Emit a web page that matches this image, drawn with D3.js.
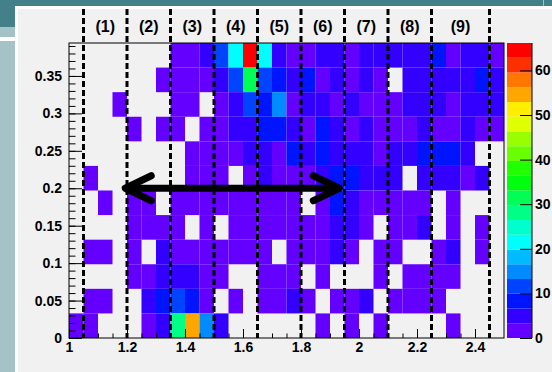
<!DOCTYPE html>
<html>
<head>
<meta charset="utf-8">
<script src="https://cdn.jsdelivr.net/npm/d3@7"></script>
<style>
body { margin: 0; background: #f1f1f1; }
svg { display: block; font-family: "Liberation Sans", Arial, sans-serif; font-weight: bold; }
</style>
</head>
<body>
<div id="chart"></div>
<script>
// histogram binning
var xMin = 1, xMax = 2.5, xBins = 30
var yMin = 0, yMax = 0.394, yBins = 12
// bin contents, rows listed from the top y bin down to the bottom one
var counts = [
  [0,0,0,0,0,0,0,2,2,5,11,21,63,21,5,2,2,5,5,2,5,5,5,5,6,8,2,5,5,2],
  [0,0,0,0,0,0,2,2,2,2,5,11,32,11,8,5,8,2,5,2,5,2,0,5,5,5,5,5,8,5],
  [0,0,0,2,0,0,0,2,2,0,2,5,11,8,15,2,5,5,2,5,2,2,2,5,5,5,2,5,5,5],
  [0,0,0,0,2,0,2,2,0,2,2,5,6,8,8,5,2,8,5,2,5,2,2,2,5,2,2,5,2,2],
  [0,0,0,0,0,0,0,0,2,2,2,2,5,5,2,8,5,8,5,5,5,2,5,5,8,8,8,5,0,0],
  [0,2,0,0,0,0,0,0,2,2,2,0,2,5,2,2,2,5,8,8,5,5,5,0,5,5,5,2,5,0],
  [0,0,2,0,2,2,0,2,2,2,2,2,2,2,2,2,0,2,8,6,2,2,2,2,2,0,2,0,0,0],
  [0,0,0,0,2,2,2,2,0,2,0,2,2,2,2,2,2,2,5,5,2,0,2,2,5,0,2,0,2,0],
  [0,2,2,0,2,0,5,2,2,2,2,2,2,2,0,2,2,2,5,2,0,2,2,0,0,2,5,0,2,0],
  [0,0,0,0,2,2,5,5,5,2,2,0,0,2,2,2,0,2,0,0,0,2,0,2,2,2,2,0,0,0],
  [0,2,2,0,0,5,8,11,8,2,0,2,0,2,2,5,2,0,2,2,5,0,2,2,2,2,0,0,0,0],
  [2,2,0,0,0,2,5,28,55,15,5,0,0,0,0,0,0,2,0,2,0,2,0,0,0,0,2,0,0,0]
]
var zMax = 66.15, nContours = 20
var xTicks = [1, 1.2, 1.4, 1.6, 1.8, 2, 2.2, 2.4]
var yTicks = [0, 0.05, 0.1, 0.15, 0.2, 0.25, 0.3, 0.35]
var zTicks = [0, 10, 20, 30, 40, 50, 60]
var dividers = [1.05, 1.2, 1.35, 1.5, 1.65, 1.8, 1.95, 2.1, 2.25, 2.45]
var regionLabels = ["(1)", "(2)", "(3)", "(4)", "(5)", "(6)", "(7)", "(8)", "(9)"]
var arrowFrom = 1.194, arrowTo = 1.932, arrowY = 0.2

var W = 552, H = 372
var frame = {left: 69, right: 504, top: 43, bottom: 338}
var bar = {left: 507, right: 532}

var svg = d3.select("#chart").append("svg").attr("width", W).attr("height", H)

// slide-like background
svg.append("rect").attr("x", 0).attr("y", 0).attr("width", W).attr("height", H).attr("fill", "#a5c3c6")
svg.append("rect").attr("x", 0).attr("y", 0).attr("width", W).attr("height", 6).attr("fill", "#44808a")
svg.append("rect").attr("x", 0).attr("y", 0).attr("width", 15).attr("height", 27).attr("fill", "#44808a")
svg.append("rect").attr("x", 0).attr("y", 37).attr("width", 15).attr("height", 4).attr("fill", "#ffffff")
svg.append("rect").attr("x", 543).attr("y", 0).attr("width", 1).attr("height", 6).attr("fill", "#9fc0c4")
svg.append("rect").attr("x", 15).attr("y", 6).attr("width", W - 15).attr("height", H - 6).attr("fill", "#ffffff")
svg.append("rect").attr("x", 18).attr("y", 9).attr("width", W - 18).attr("height", H - 9).attr("fill", "#f1f1f1")

var x = d3.scaleLinear().domain([xMin, xMax]).range([frame.left, frame.right])
var y = d3.scaleLinear().domain([yMin, yMax]).range([frame.bottom, frame.top])
var z = d3.scaleLinear().domain([0, zMax]).range([frame.bottom, frame.top])
var dx = (xMax - xMin) / xBins, dy = (yMax - yMin) / yBins, dz = zMax / nContours

// ROOT "pretty" palette, 20 contour levels
function levelColor(k) {
  var idx = Math.floor((k + 0.99) * 50 / nContours)
  var hue = 280 - (idx + 1) * 5.6
  return d3.hsl(hue, 1, 0.5).toString()
}

var cells = []
counts.forEach(function(row, r) {
  row.forEach(function(v, c) {
    if (v > 0) cells.push({i: c, j: yBins - 1 - r, v: v})
  })
})

svg.append("g").selectAll("rect").data(cells).enter().append("rect")
  .attr("x", function(d) { return x(xMin + d.i * dx) })
  .attr("y", function(d) { return y(yMin + (d.j + 1) * dy) })
  .attr("width", function(d) { return x(xMin + (d.i + 1) * dx) - x(xMin + d.i * dx) })
  .attr("height", function(d) { return y(yMin + d.j * dy) - y(yMin + (d.j + 1) * dy) })
  .attr("fill", function(d) { return levelColor(Math.min(nContours - 1, Math.floor(d.v / dz))) })

// frame
svg.append("rect").attr("x", frame.left).attr("y", frame.top)
  .attr("width", frame.right - frame.left).attr("height", frame.bottom - frame.top)
  .attr("fill", "none").attr("stroke", "#000").attr("stroke-width", 1)

// axes (ticks point into the frame)
var xMinor = d3.range(0, 30).map(function(i) { return xMin + i * 0.05 })
svg.append("g").attr("transform", "translate(0," + frame.bottom + ")")
  .call(d3.axisBottom(x).tickValues(xMinor).tickSize(-4.5).tickFormat(""))
svg.append("g").attr("class", "xaxis").attr("transform", "translate(0," + frame.bottom + ")")
  .call(d3.axisBottom(x).tickValues(xTicks).tickSize(-9).tickPadding(4).tickFormat(d3.format("")))
var yMinor = d3.range(0, 40).map(function(i) { return i * 0.01 })
svg.append("g").attr("transform", "translate(" + frame.left + ",0)")
  .call(d3.axisLeft(y).tickValues(yMinor).tickSize(-6.5).tickFormat(""))
svg.append("g").attr("class", "yaxis").attr("transform", "translate(" + frame.left + ",0)")
  .call(d3.axisLeft(y).tickValues(yTicks).tickSize(-13).tickPadding(7).tickFormat(d3.format("")))
svg.selectAll(".domain").remove()
svg.selectAll(".tick line").attr("stroke", "#000")
svg.selectAll(".tick text").attr("font-size", 14).attr("font-family", "Liberation Sans, Arial, sans-serif")
  .attr("font-weight", "bold").attr("fill", "#000")

// colour bar
var levels = d3.range(nContours)
svg.append("g").selectAll("rect").data(levels).enter().append("rect")
  .attr("x", bar.left).attr("width", bar.right - bar.left)
  .attr("y", function(k) { return z((k + 1) * dz) })
  .attr("height", function(k) { return z(k * dz) - z((k + 1) * dz) })
  .attr("fill", function(k) { return levelColor(k) })
var zAxis = svg.append("g").attr("transform", "translate(" + bar.right + ",0)")
  .call(d3.axisRight(z).tickValues(zTicks).tickSize(-12).tickPadding(3))
zAxis.select(".domain").attr("stroke", "#000").attr("d", "M0," + frame.top + "V" + frame.bottom)
zAxis.selectAll(".tick line").attr("stroke", "#000")
zAxis.selectAll(".tick text").attr("font-size", 14).attr("font-family", "Liberation Sans, Arial, sans-serif")
  .attr("font-weight", "bold").attr("fill", "#000")

// dashed region dividers
svg.append("g").selectAll("line").data(dividers).enter().append("line")
  .attr("x1", function(d) { return x(d) }).attr("x2", function(d) { return x(d) })
  .attr("y1", 9).attr("y2", frame.bottom)
  .attr("stroke", "#000").attr("stroke-width", 3).attr("stroke-dasharray", "6,3")

svg.append("g").selectAll("text").data(regionLabels).enter().append("text")
  .attr("x", function(d, i) { return (x(dividers[i]) + x(dividers[i + 1])) / 2 })
  .attr("y", 32).attr("text-anchor", "middle").attr("font-size", 16).attr("fill", "#000")
  .text(function(d) { return d })

// double-headed arrow
var ay = y(arrowY), ax1 = x(arrowFrom), ax2 = x(arrowTo)
var arrow = svg.append("g").attr("stroke", "#000").attr("stroke-width", 7).attr("fill", "none")
  .attr("stroke-linecap", "round").attr("stroke-linejoin", "round")
arrow.append("line").attr("x1", ax1).attr("x2", ax2).attr("y1", ay).attr("y2", ay).attr("stroke-linecap", "butt")
arrow.append("polyline").attr("points", [[ax1 + 26, ay - 12.5], [ax1, ay], [ax1 + 26, ay + 12.5]].join(" "))
arrow.append("polyline").attr("points", [[ax2 - 26, ay - 12.5], [ax2, ay], [ax2 - 26, ay + 12.5]].join(" "))
</script>
</body>
</html>
